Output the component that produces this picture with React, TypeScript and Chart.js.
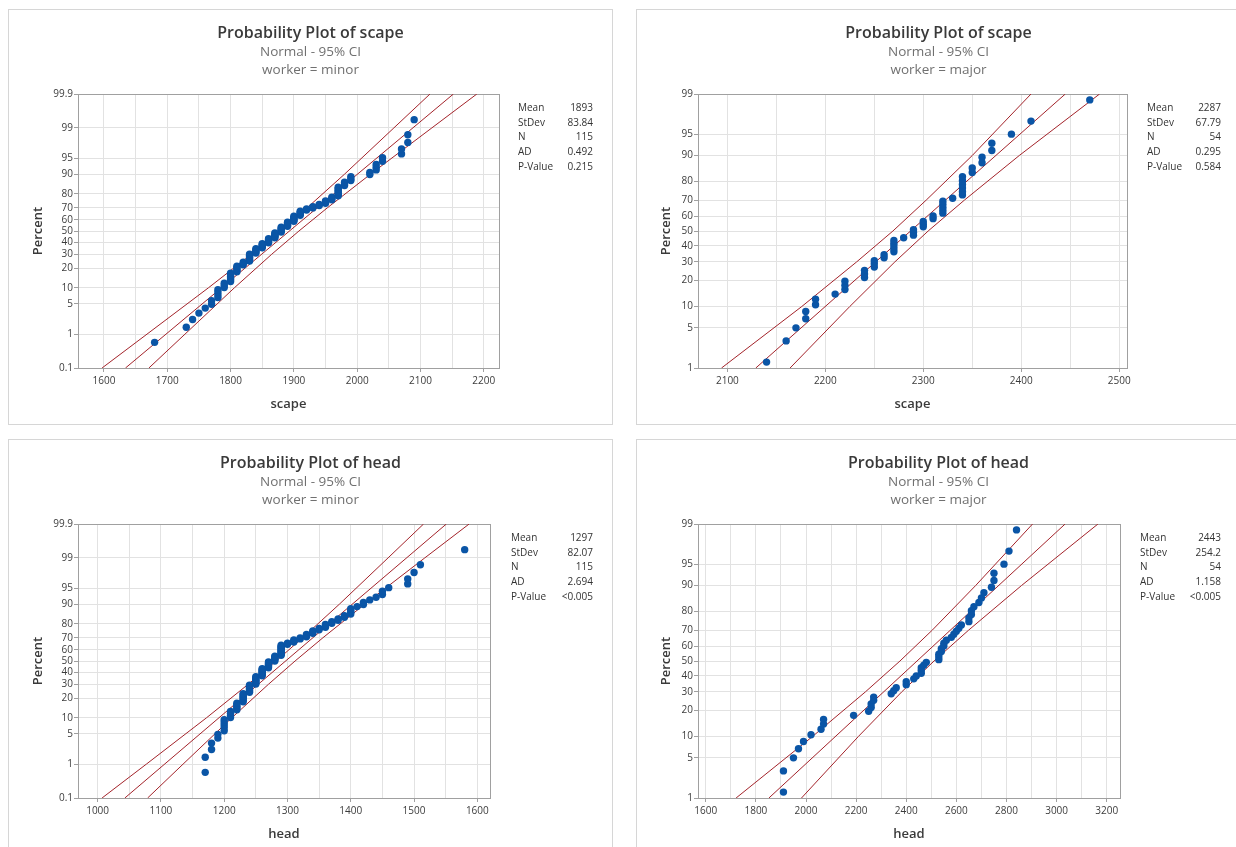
import React, { useEffect, useRef } from "react";
import { Chart, registerables, LinearScale } from "chart.js";

Chart.register(...registerables);

// ---------- data ----------
const STAT_LABELS = ["Mean", "StDev", "N", "AD", "P-Value"];

const Y_TICKS_WIDE = [0.1, 1, 5, 10, 20, 30, 40, 50, 60, 70, 80, 90, 95, 99, 99.9];
const Y_TICKS_NARROW = [1, 5, 10, 20, 30, 40, 50, 60, 70, 80, 90, 95, 99];

// plotting positions (percent) read for n = 115 and n = 54
const PCT_N115 = [
  0.6, 1.5, 2.3, 3.2, 4.1, 4.9, 5.8, 6.7, 7.5, 8.4,
  9.3, 10.1, 11.0, 11.9, 12.7, 13.6, 14.5, 15.3, 16.2, 17.1,
  17.9, 18.8, 19.7, 20.5, 21.4, 22.3, 23.1, 24.0, 24.9, 25.7,
  26.6, 27.5, 28.3, 29.2, 30.1, 30.9, 31.8, 32.7, 33.5, 34.4,
  35.3, 36.1, 37.0, 37.9, 38.7, 39.6, 40.5, 41.3, 42.2, 43.1,
  43.9, 44.8, 45.7, 46.5, 47.4, 48.3, 49.1, 50.0, 50.9, 51.7,
  52.6, 53.5, 54.3, 55.2, 56.1, 56.9, 57.8, 58.7, 59.5, 60.4,
  61.3, 62.1, 63.0, 63.9, 64.7, 65.6, 66.5, 67.3, 68.2, 69.1,
  69.9, 70.8, 71.7, 72.5, 73.4, 74.3, 75.1, 76.0, 76.9, 77.7,
  78.6, 79.5, 80.3, 81.2, 82.1, 82.9, 83.8, 84.7, 85.5, 86.4,
  87.3, 88.1, 89.0, 89.9, 90.7, 91.6, 92.5, 93.3, 94.2, 95.1,
  95.9, 96.8, 97.7, 98.5, 99.4,
];
const PCT_N54 = [
  1.3, 3.1, 5.0, 6.8, 8.6, 10.5, 12.3, 14.2, 16.0, 17.8,
  19.7, 21.5, 23.3, 25.2, 27.0, 28.9, 30.7, 32.5, 34.4, 36.2,
  38.1, 39.9, 41.7, 43.6, 45.4, 47.2, 49.1, 50.9, 52.8, 54.6,
  56.4, 58.3, 60.1, 61.9, 63.8, 65.6, 67.5, 69.3, 71.1, 73.0,
  74.8, 76.7, 78.5, 80.3, 82.2, 84.0, 85.8, 87.7, 89.5, 91.4,
  93.2, 95.0, 96.9, 98.7,
];

// sorted observations
const SCAPE_MINOR = [
  1680, 1730, 1740, 1750, 1760, 1770, 1770, 1780, 1780, 1780,
  1780, 1790, 1790, 1790, 1800, 1800, 1800, 1800, 1800, 1800,
  1810, 1810, 1810, 1810, 1810, 1820, 1820, 1820, 1830, 1830,
  1830, 1830, 1830, 1830, 1830, 1840, 1840, 1840, 1840, 1840,
  1850, 1850, 1850, 1850, 1850, 1860, 1860, 1860, 1860, 1860,
  1870, 1870, 1870, 1870, 1870, 1870, 1880, 1880, 1880, 1880,
  1880, 1880, 1890, 1890, 1890, 1890, 1890, 1900, 1900, 1900,
  1900, 1900, 1900, 1910, 1910, 1910, 1910, 1910, 1920, 1920,
  1930, 1930, 1940, 1940, 1950, 1950, 1950, 1960, 1960, 1960,
  1970, 1970, 1970, 1970, 1970, 1970, 1970, 1980, 1980, 1980,
  1990, 1990, 1990, 2020, 2020, 2030, 2030, 2030, 2040, 2040,
  2070, 2070, 2080, 2080, 2090,
];
const SCAPE_MAJOR = [
  2140, 2160, 2170, 2180, 2180, 2190, 2190, 2210, 2220, 2220,
  2220, 2240, 2240, 2240, 2250, 2250, 2250, 2260, 2260, 2270,
  2270, 2270, 2270, 2270, 2280, 2290, 2290, 2290, 2300, 2300,
  2300, 2310, 2310, 2320, 2320, 2320, 2320, 2320, 2330, 2340,
  2340, 2340, 2340, 2340, 2340, 2350, 2350, 2360, 2360, 2370,
  2370, 2390, 2410, 2470,
];
const HEAD_MINOR = [
  1170, 1170, 1180, 1180, 1190, 1190, 1200, 1200, 1200, 1200,
  1200, 1210, 1210, 1210, 1210, 1220, 1220, 1220, 1220, 1220,
  1230, 1230, 1230, 1230, 1230, 1230, 1230, 1240, 1240, 1240,
  1240, 1240, 1240, 1240, 1250, 1250, 1250, 1250, 1250, 1250,
  1250, 1250, 1260, 1260, 1260, 1260, 1260, 1260, 1260, 1260,
  1270, 1270, 1270, 1270, 1270, 1270, 1270, 1280, 1280, 1280,
  1280, 1280, 1280, 1290, 1290, 1290, 1290, 1290, 1290, 1290,
  1290, 1290, 1290, 1290, 1300, 1300, 1310, 1310, 1310, 1320,
  1320, 1330, 1330, 1330, 1340, 1340, 1340, 1350, 1350, 1360,
  1360, 1360, 1370, 1370, 1380, 1380, 1390, 1390, 1400, 1400,
  1400, 1400, 1410, 1420, 1420, 1430, 1440, 1450, 1450, 1460,
  1490, 1490, 1500, 1510, 1580,
];
const HEAD_MAJOR = [
  1910, 1910, 1950, 1970, 1990, 2020, 2060, 2070, 2070, 2190,
  2250, 2260, 2260, 2270, 2270, 2340, 2350, 2360, 2400, 2400,
  2430, 2440, 2460, 2460, 2460, 2470, 2480, 2530, 2530, 2530,
  2540, 2540, 2550, 2550, 2560, 2580, 2590, 2600, 2610, 2620,
  2650, 2650, 2660, 2660, 2670, 2690, 2700, 2710, 2740, 2750,
  2750, 2790, 2810, 2840,
];

// fitted line and 95% CI bands (x read at these percents)
const FIT_PCT_WIDE = [0.1, 99.9];
const FIT_PCT_NARROW = [1, 99];
const CI_PCT_WIDE = [0.1, 1, 10, 30, 50, 70, 90, 99, 99.9];
const CI_PCT_NARROW = [1, 10, 30, 50, 70, 90, 99];

const SM_FIT = [1634, 2152];
const SM_LO = [1597, 1668, 1765, 1833, 1878, 1921, 1980, 2058, 2115];
const SM_HI = [1671, 1728, 1806, 1865, 1908, 1953, 2021, 2118, 2189];

const SJ_FIT = [2129, 2445];
const SJ_LO = [2094, 2176, 2232, 2269, 2303, 2350, 2410];
const SJ_HI = [2164, 2225, 2271, 2305, 2342, 2398, 2480];

const HM_FIT = [1043, 1551];
const HM_LO = [1007, 1077, 1172, 1238, 1282, 1324, 1382, 1459, 1515];
const HM_HI = [1079, 1135, 1212, 1270, 1312, 1356, 1422, 1517, 1587];

const HJ_FIT = [1852, 3034];
const HJ_LO = [1721, 2026, 2237, 2375, 2504, 2677, 2904];
const HJ_HI = [1982, 2209, 2382, 2511, 2649, 2860, 3165];

const STATS_SM = ["1893", "83.84", "115", "0.492", "0.215"];
const STATS_SJ = ["2287", "67.79", "54", "0.295", "0.584"];
const STATS_HM = ["1297", "82.07", "115", "2.694", "<0.005"];
const STATS_HJ = ["2443", "254.2", "54", "1.158", "<0.005"];

// ---------- styles ----------
const FONT = "'Open Sans', 'Noto Sans', sans-serif";
const POINT = "#0a55a6";
const LINE = "#a3232a";
const GRID = "#e2e2e2";
const FRAME = "#a0a0a0";
const TICK_TEXT = "#3c3c3c";
const PANEL_W = 605;
const PANEL_H = 416;
const CANVAS_W = 603;
const CANVAS_H = 414;
const PLOT_TOP = 84;
const PLOT_BOTTOM = 358;

Chart.defaults.font.family = FONT;
Chart.defaults.color = TICK_TEXT;

// ---------- normal probability scale ----------
function probit(p: number): number {
  const a = [-3.969683028665376e1, 2.209460984245205e2, -2.759285104469687e2, 1.38357751867269e2, -3.066479806614716e1, 2.506628277459239];
  const b = [-5.447609879822406e1, 1.615858368580409e2, -1.556989798598866e2, 6.680131188771972e1, -1.328068155288572e1];
  const c = [-7.784894002430293e-3, -3.223964580411365e-1, -2.400758277161838, -2.549732539343734, 4.374664141464968, 2.938163982698783];
  const d = [7.784695709041462e-3, 3.224671290700398e-1, 2.445134137142996, 3.754408661907416];
  const pl = 0.02425;
  if (p <= 0) return -8;
  if (p >= 1) return 8;
  if (p < pl) {
    const q = Math.sqrt(-2 * Math.log(p));
    return (((((c[0] * q + c[1]) * q + c[2]) * q + c[3]) * q + c[4]) * q + c[5]) / ((((d[0] * q + d[1]) * q + d[2]) * q + d[3]) * q + 1);
  }
  if (p <= 1 - pl) {
    const q = p - 0.5;
    const r = q * q;
    return ((((((a[0] * r + a[1]) * r + a[2]) * r + a[3]) * r + a[4]) * r + a[5]) * q) / (((((b[0] * r + b[1]) * r + b[2]) * r + b[3]) * r + b[4]) * r + 1);
  }
  const q = Math.sqrt(-2 * Math.log(1 - p));
  return -(((((c[0] * q + c[1]) * q + c[2]) * q + c[3]) * q + c[4]) * q + c[5]) / ((((d[0] * q + d[1]) * q + d[2]) * q + d[3]) * q + 1);
}

function normCdf(z: number): number {
  const t = 1 / (1 + 0.2316419 * Math.abs(z));
  const dd = 0.3989423 * Math.exp((-z * z) / 2);
  const p = dd * t * (0.3193815 + t * (-0.3565638 + t * (1.781478 + t * (-1.821256 + t * 1.330274))));
  return z > 0 ? 1 - p : p;
}

class ProbabilityScale extends LinearScale {
  static id = "probability";
  static defaults = {};
  buildTicks() {
    return [];
  }
  getPixelForValue(value: number) {
    if (value === null || value === undefined || isNaN(value)) return NaN;
    const z0 = probit((this as any).min / 100);
    const z1 = probit((this as any).max / 100);
    return this.getPixelForDecimal((probit(value / 100) - z0) / (z1 - z0));
  }
  getValueForPixel(pixel: number) {
    const z0 = probit((this as any).min / 100);
    const z1 = probit((this as any).max / 100);
    const dec = this.getDecimalForPixel(pixel);
    return 100 * normCdf(z0 + dec * (z1 - z0));
  }
}
Chart.register(ProbabilityScale as any);

const framePlugin = {
  id: "plotFrame",
  beforeDatasetsDraw(chart: any) {
    const { ctx, chartArea: a } = chart;
    const al = (v: number) => Math.round(v - 0.5) + 0.5;
    ctx.save();
    ctx.strokeStyle = FRAME;
    ctx.lineWidth = 1;
    ctx.strokeRect(al(a.left), al(a.top), al(a.right) - al(a.left), al(a.bottom) - al(a.top));
    ctx.restore();
  },
};

type PanelProps = {
  left: number;
  top: number;
  title: string;
  sub1: string;
  sub2: string;
  xTitle: string;
  xs: number[];
  pcts: number[];
  fitX: number[];
  fitPct: number[];
  loX: number[];
  hiX: number[];
  ciPct: number[];
  xMin: number;
  xMax: number;
  gridStep: number;
  labelStep: number;
  yTicks: number[];
  plotL: number;
  plotR: number;
  stats: string[];
  statsLeft: number;
};

function Panel(p: PanelProps) {
  const ref = useRef<HTMLCanvasElement>(null);
  useEffect(() => {
    if (!ref.current) return;
    const gridVals: number[] = [];
    for (let v = Math.ceil(p.xMin / p.gridStep) * p.gridStep; v <= p.xMax; v += p.gridStep) gridVals.push(v);
    const toPts = (xs: number[], ys: number[]) => xs.map((x, i) => ({ x, y: ys[i] }));
    const lineDs = (label: string, xs: number[], ys: number[]) => ({
      label,
      data: toPts(xs, ys),
      showLine: true,
      borderColor: LINE,
      borderWidth: 1,
      pointRadius: 0,
      fill: false,
    });
    const chart = new Chart(ref.current, {
      type: "scatter",
      data: {
        datasets: [
          {
            label: "data",
            data: toPts(p.xs, p.pcts),
            pointRadius: 3.7,
            pointBackgroundColor: POINT,
            pointBorderWidth: 0,
            showLine: false,
          } as any,
          lineDs("fit", p.fitX, p.fitPct),
          lineDs("lower", p.loX, p.ciPct),
          lineDs("upper", p.hiX, p.ciPct),
        ],
      },
      options: {
        animation: false,
        responsive: false,
        events: [],
        layout: { padding: { left: 0, top: PLOT_TOP, right: CANVAS_W - p.plotR, bottom: 0 } },
        plugins: { legend: { display: false }, tooltip: { enabled: false }, title: { display: false } },
        scales: {
          x: {
            type: "linear",
            position: "bottom",
            min: p.xMin,
            max: p.xMax,
            bounds: "data",
            afterBuildTicks: (s: any) => {
              s.ticks = gridVals.map((v) => ({ value: v }));
            },
            afterFit: (s: any) => {
              s.height = CANVAS_H - PLOT_BOTTOM;
            },
            ticks: {
              autoSkip: false,
              maxRotation: 0,
              padding: 3,
              color: TICK_TEXT,
              font: { size: 10 },
              callback: (v: any) => (Math.abs(v % p.labelStep) < 1e-6 ? String(v) : ""),
            },
            grid: {
              color: GRID,
              lineWidth: 1,
              drawTicks: true,
              tickLength: 4,
              tickColor: (ctx: any) =>
                ctx.tick && Math.abs(ctx.tick.value % p.labelStep) < 1e-6 ? FRAME : "rgba(0,0,0,0)",
            },
            border: { display: false },
            title: {
              display: true,
              text: p.xTitle,
              color: "#3a3a3a",
              font: { size: 13, weight: "600" },
              padding: { top: 0, bottom: 12 },
            },
          } as any,
          y: {
            type: "probability",
            position: "left",
            min: p.yTicks[0],
            max: p.yTicks[p.yTicks.length - 1],
            afterBuildTicks: (s: any) => {
              s.ticks = p.yTicks.map((v) => ({ value: v }));
            },
            afterFit: (s: any) => {
              s.width = p.plotL;
            },
            ticks: {
              autoSkip: false,
              padding: 1,
              color: TICK_TEXT,
              font: { size: 10 },
              callback: (v: any) => String(v),
            },
            grid: { color: GRID, lineWidth: 1, drawTicks: true, tickLength: 4, tickColor: FRAME },
            border: { display: false },
            title: {
              display: true,
              text: "Percent",
              color: "#3a3a3a",
              font: { size: 13, weight: "600" },
              padding: { top: 21, bottom: 0 },
            },
          } as any,
        },
      },
      plugins: [framePlugin],
    } as any);
    return () => chart.destroy();
  }, []);

  const textBase: React.CSSProperties = { position: "absolute", whiteSpace: "nowrap", fontFamily: FONT };
  return (
    <div style={{ position: "absolute", left: p.left, top: p.top, width: PANEL_W, height: PANEL_H, background: "#fff" }}>
      <div style={{ position: "absolute", left: 0, top: 0, width: PANEL_W, height: PANEL_H, border: "1px solid #d6d6d6", boxSizing: "border-box" }} />
      <canvas
        ref={ref}
        width={CANVAS_W}
        height={CANVAS_H}
        style={{ position: "absolute", left: 1, top: 1, width: CANVAS_W, height: CANVAS_H }}
      />
      <div style={{ ...textBase, left: 0, width: PANEL_W, top: 12.7, lineHeight: "20px", textAlign: "center", fontSize: 16, fontWeight: 600, color: "#3a3a3a" }}>
        {p.title}
      </div>
      <div style={{ ...textBase, left: 0, width: PANEL_W, top: 32, lineHeight: "20px", textAlign: "center", fontSize: 13.5, color: "#707070" }}>
        {p.sub1}
      </div>
      <div style={{ ...textBase, left: 0, width: PANEL_W, top: 50.3, lineHeight: "20px", textAlign: "center", fontSize: 13.5, color: "#707070" }}>
        {p.sub2}
      </div>
      {STAT_LABELS.map((lab, i) => (
        <React.Fragment key={lab}>
          <div style={{ ...textBase, left: p.statsLeft, top: 97.7 + i * 14.8 - 7, lineHeight: "14px", fontSize: 10, color: "#333" }}>{lab}</div>
          <div style={{ ...textBase, right: PANEL_W - 585, top: 97.7 + i * 14.8 - 7, lineHeight: "14px", fontSize: 10, color: "#333", textAlign: "right" }}>
            {p.stats[i]}
          </div>
        </React.Fragment>
      ))}
    </div>
  );
}

const PANELS: PanelProps[] = [
  {
    left: 8, top: 9, title: "Probability Plot of scape", sub1: "Normal - 95% CI", sub2: "worker = minor", xTitle: "scape",
    xs: SCAPE_MINOR, pcts: PCT_N115, fitX: SM_FIT, fitPct: FIT_PCT_WIDE, loX: SM_LO, hiX: SM_HI, ciPct: CI_PCT_WIDE,
    xMin: 1559, xMax: 2224, gridStep: 50, labelStep: 100, yTicks: Y_TICKS_WIDE, plotL: 69, plotR: 490,
    stats: STATS_SM, statsLeft: 510,
  },
  {
    left: 636, top: 9, title: "Probability Plot of scape", sub1: "Normal - 95% CI", sub2: "worker = major", xTitle: "scape",
    xs: SCAPE_MAJOR, pcts: PCT_N54, fitX: SJ_FIT, fitPct: FIT_PCT_NARROW, loX: SJ_LO, hiX: SJ_HI, ciPct: CI_PCT_NARROW,
    xMin: 2070, xMax: 2508, gridStep: 50, labelStep: 100, yTicks: Y_TICKS_NARROW, plotL: 61, plotR: 490,
    stats: STATS_SJ, statsLeft: 511,
  },
  {
    left: 8, top: 439, title: "Probability Plot of head", sub1: "Normal - 95% CI", sub2: "worker = minor", xTitle: "head",
    xs: HEAD_MINOR, pcts: PCT_N115, fitX: HM_FIT, fitPct: FIT_PCT_WIDE, loX: HM_LO, hiX: HM_HI, ciPct: CI_PCT_WIDE,
    xMin: 969, xMax: 1620, gridStep: 50, labelStep: 100, yTicks: Y_TICKS_WIDE, plotL: 69, plotR: 481,
    stats: STATS_HM, statsLeft: 503,
  },
  {
    left: 636, top: 439, title: "Probability Plot of head", sub1: "Normal - 95% CI", sub2: "worker = major", xTitle: "head",
    xs: HEAD_MAJOR, pcts: PCT_N54, fitX: HJ_FIT, fitPct: FIT_PCT_NARROW, loX: HJ_LO, hiX: HJ_HI, ciPct: CI_PCT_NARROW,
    xMin: 1569, xMax: 3253, gridStep: 100, labelStep: 200, yTicks: Y_TICKS_NARROW, plotL: 61, plotR: 483,
    stats: STATS_HJ, statsLeft: 504,
  },
];

export default function App() {
  return (
    <div style={{ position: "absolute", left: 0, top: 0, width: 1236, height: 847, overflow: "hidden", background: "#fff", fontFamily: FONT }}>
      {PANELS.map((p, i) => (
        <Panel key={i} {...p} />
      ))}
    </div>
  );
}
